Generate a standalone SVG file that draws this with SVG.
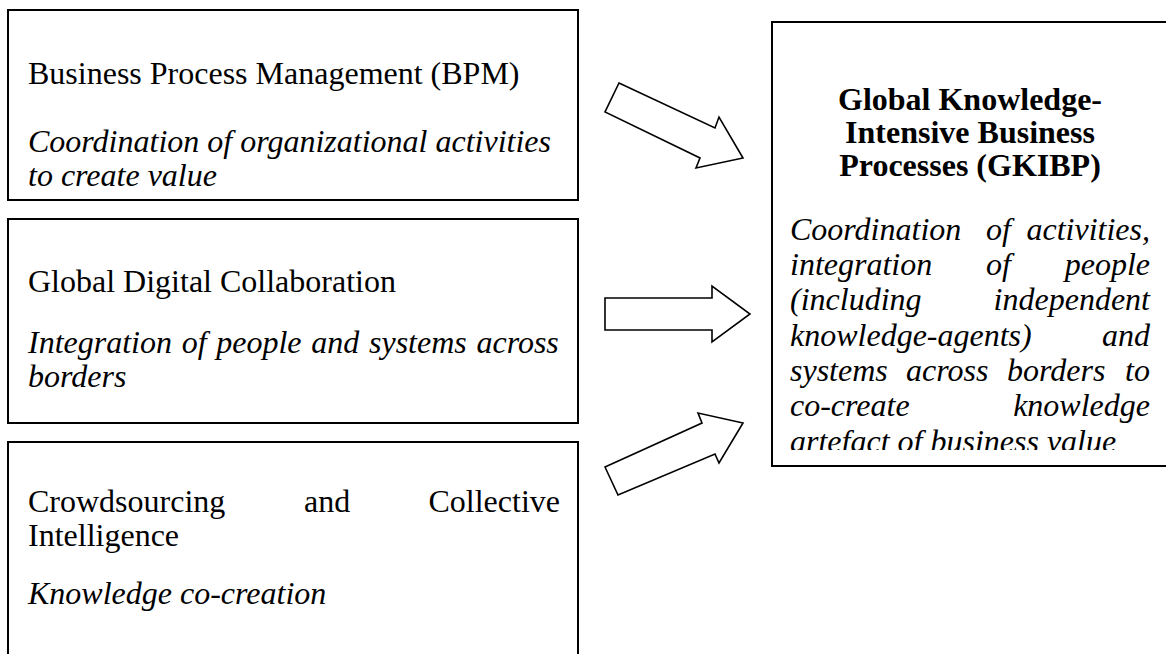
<svg xmlns="http://www.w3.org/2000/svg" width="1166" height="654" viewBox="0 0 1166 654">
<style>
.box{fill:#fff;stroke:#000;stroke-width:2}
.arrow{fill:#fff;stroke:#000;stroke-width:1.6;stroke-linejoin:miter}
.t{font-family:"Liberation Serif","Times New Roman",serif;font-size:32px;fill:#000}
.i{font-style:italic}
.b{font-weight:bold}
</style>
<defs>
<clipPath id="rclip"><rect x="772" y="22" width="400" height="428"/></clipPath>
</defs>
<rect width="1166" height="654" fill="#fff"/>
<g id="bpm">
<rect class="box" x="8" y="10" width="570" height="190"/>
<text class="t" x="28" y="84">Business Process Management (BPM)</text>
<text class="t i" x="28" y="152">Coordination of organizational activities</text>
<text class="t i" x="28" y="186">to create value</text>
</g>
<g id="gdc">
<rect class="box" x="8" y="219" width="570" height="204"/>
<text class="t" x="28" y="292">Global Digital Collaboration</text>
<text class="t i" x="28" y="353" word-spacing="1.7">Integration of people and systems across</text>
<text class="t i" x="28" y="387">borders</text>
</g>
<g id="crowd">
<rect class="box" x="8" y="442" width="570" height="240"/>
<text class="t" x="28" y="512">Crowdsourcing</text>
<text class="t" x="304" y="512">and</text>
<text class="t" x="560" y="512" text-anchor="end">Collective</text>
<text class="t" x="28" y="546">Intelligence</text>
<text class="t i" x="28" y="604">Knowledge co-creation</text>
</g>
<g id="gkibp">
<rect class="box" x="772" y="22" width="420" height="444"/>
<text class="t b" x="970" y="110" text-anchor="middle">Global Knowledge-</text>
<text class="t b" x="970" y="143" text-anchor="middle">Intensive Business</text>
<text class="t b" x="970" y="176" text-anchor="middle">Processes (GKIBP)</text>
<g clip-path="url(#rclip)">
<text class="t i" x="790" y="240">Coordination</text>
<text class="t i" x="986" y="240">of</text>
<text class="t i" x="1150" y="240" text-anchor="end">activities,</text>
<text class="t i" x="790" y="275">integration</text>
<text class="t i" x="986" y="275">of</text>
<text class="t i" x="1150" y="275" text-anchor="end">people</text>
<text class="t i" x="790" y="310">(including</text>
<text class="t i" x="1150" y="310" text-anchor="end">independent</text>
<text class="t i" x="790" y="346">knowledge-agents)</text>
<text class="t i" x="1150" y="346" text-anchor="end">and</text>
<text class="t i" x="790" y="381">systems</text>
<text class="t i" x="906" y="381">across</text>
<text class="t i" x="1007" y="381">borders</text>
<text class="t i" x="1150" y="381" text-anchor="end">to</text>
<text class="t i" x="790" y="416">co-create</text>
<text class="t i" x="1150" y="416" text-anchor="end">knowledge</text>
<text class="t i" x="790" y="452">artefact of business value</text>
</g>
</g>
<g id="connectors">
<polygon class="arrow" points="619,83 715,128 719,117 743,158 696,168 700,158 605,112"/>
<polygon class="arrow" points="605,298 712,298 712,286 750,314 712,342 712,330 605,330"/>
<polygon class="arrow" points="605,467 702,423 698,413 743,423 719,463 715,454 618,495"/>
</g>
</svg>
